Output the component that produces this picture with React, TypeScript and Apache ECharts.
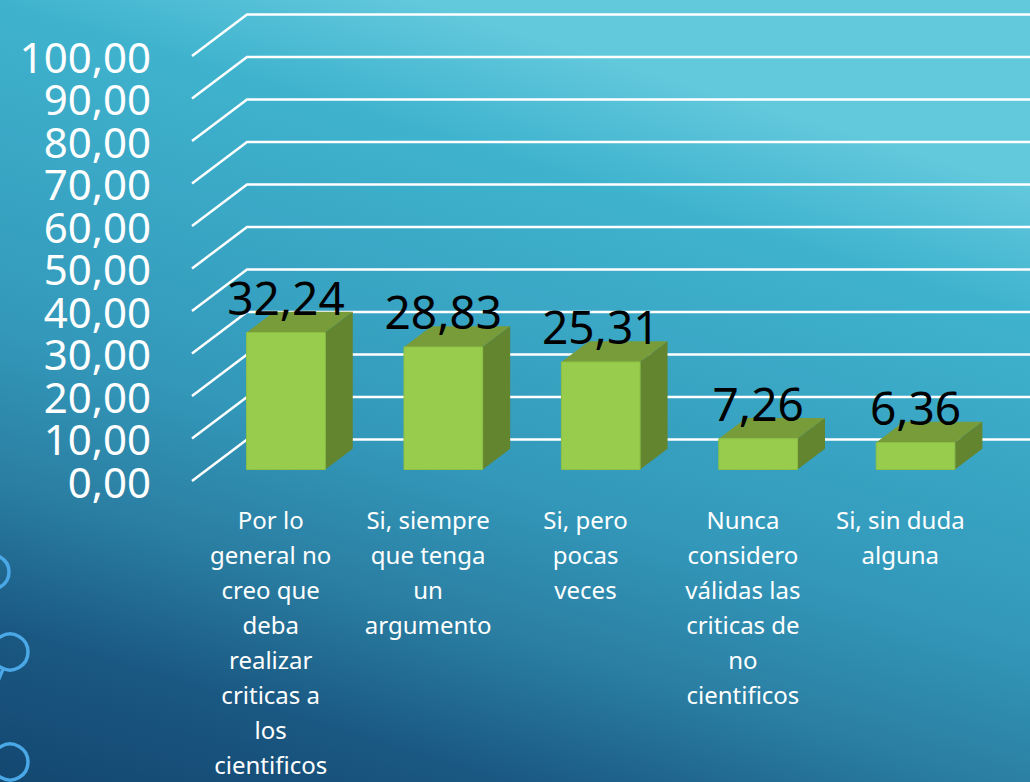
import React, { useEffect, useRef } from "react";
import * as echarts from "echarts";

const categories: string[] = [
  "Por lo\ngeneral no\ncreo que\ndeba\nrealizar\ncriticas a\nlos\ncientificos",
  "Si, siempre\nque tenga\nun\nargumento",
  "Si, pero\npocas\nveces",
  "Nunca\nconsidero\nválidas las\ncriticas de\nno\ncientificos",
  "Si, sin duda\nalguna",
];
const values: number[] = [32.24, 28.83, 25.31, 7.26, 6.36];
const yTicks: number[] = [0, 10, 20, 30, 40, 50, 60, 70, 80, 90, 100];

const FONT = "'Noto Sans', 'DejaVu Sans', sans-serif";
const fmt = (v: number) => v.toFixed(2).replace(".", ",");

// perspective depth of the floor (front -> back wall)
const DX = 55;
const DY = -41.5;

export default function App() {
  const ref = useRef<HTMLDivElement>(null);
  useEffect(() => {
    if (!ref.current) return;
    const chart = echarts.init(ref.current, undefined, { renderer: "svg" });
    const option: any = {
      animation: false,
      backgroundColor: {
        type: "linear",
        x: 0,
        y: 1,
        x2: 0.4,
        y2: 0,
        colorStops: [
          { offset: 0, color: "#134770" },
          { offset: 0.17, color: "#1a5882" },
          { offset: 0.33, color: "#2a7ea2" },
          { offset: 0.5, color: "#3398ba" },
          { offset: 0.86, color: "#3fb3ce" },
          { offset: 1, color: "#62c8dc" },
        ],
      },
      graphic: [
        { type: "circle", shape: { cx: -8, cy: 572, r: 17 }, style: { fill: "none", stroke: "#4aa8e6", lineWidth: 3.5 } },
        { type: "circle", shape: { cx: 10, cy: 652, r: 18 }, style: { fill: "none", stroke: "#4aa8e6", lineWidth: 3.5 } },
        { type: "line", shape: { x1: 3, y1: 669, x2: -2, y2: 681 }, style: { stroke: "#4aa8e6", lineWidth: 3.5 } },
        { type: "circle", shape: { cx: 10, cy: 762, r: 18 }, style: { fill: "none", stroke: "#4aa8e6", lineWidth: 3.5 } },
      ],
      grid: { left: 192, right: 51, top: 56, bottom: 293.5, containLabel: false },
      xAxis: {
        type: "category",
        data: categories,
        axisLine: { show: false },
        axisTick: { show: false },
        splitLine: { show: false },
        axisLabel: {
          color: "#ffffff",
          fontSize: 24,
          lineHeight: 35,
          margin: 21,
          interval: 0,
          fontFamily: FONT,
          align: "center",
        },
      },
      yAxis: {
        type: "value",
        min: 0,
        max: 100,
        interval: 10,
        axisLine: { show: false },
        axisTick: { show: false },
        splitLine: { show: false },
        axisLabel: { show: false },
      },
      series: [
        {
          type: "custom",
          z: 1,
          silent: true,
          data: yTicks.map((t) => [0, t]),
          renderItem: (params: any, api: any) => {
            const v = api.value(1);
            const y = api.coord([0, v])[1];
            const x0 = params.coordSys.x;
            return {
              type: "group",
              children: [
                {
                  type: "polyline",
                  shape: { points: [[x0, y], [x0 + DX, y + DY], [1040, y + DY]] },
                  style: { stroke: "#ffffff", lineWidth: 2.5, fill: "none" },
                },
                {
                  type: "text",
                  style: {
                    text: fmt(v),
                    x: x0 - 41,
                    y: y,
                    align: "right",
                    verticalAlign: "middle",
                    fill: "#ffffff",
                    fontSize: 42,
                    lineHeight: 40,
                    fontFamily: FONT,
                  },
                },
              ],
            };
          },
        },
        {
          type: "custom",
          z: 2,
          data: values.map((v, i) => [i, v]),
          renderItem: (params: any, api: any) => {
            const idx = api.value(0);
            const val = api.value(1);
            const p0 = api.coord([idx, 0]);
            const p1 = api.coord([idx, val]);
            const bw = api.size([1, 0])[0] * 0.5;
            const fx = 0.277 * DX, fy = 0.277 * DY;
            const bx = 0.5 * DX, by = 0.5 * DY;
            const xl = p0[0] + fx - bw / 2;
            const xr = xl + bw;
            const yb = p0[1] + fy;
            const yt = p1[1] + fy;
            return {
              type: "group",
              children: [
                {
                  type: "polygon",
                  shape: { points: [[xl, yt], [xr, yt], [xr + bx, yt + by], [xl + bx, yt + by]] },
                  style: { fill: "#789c3a" },
                },
                {
                  type: "polygon",
                  shape: { points: [[xr, yt], [xr, yb], [xr + bx, yb + by], [xr + bx, yt + by]] },
                  style: { fill: "#638530" },
                },
                {
                  type: "rect",
                  shape: { x: xl, y: yt, width: bw, height: yb - yt },
                  style: { fill: "#98cc4c", stroke: "#8cbf44", lineWidth: 1 },
                },
                {
                  type: "text",
                  style: {
                    text: fmt(val),
                    x: (xl + xr) / 2,
                    y: yt + by - 15,
                    align: "center",
                    verticalAlign: "middle",
                    fill: "#000000",
                    fontSize: 46,
                    fontFamily: FONT,
                  },
                },
              ],
            };
          },
        },
      ],
    };
    chart.setOption(option);
    return () => chart.dispose();
  }, []);
  return (
    <div
      ref={ref}
      style={{ position: "fixed", left: 0, top: 0, width: 1030, height: 782 }}
    />
  );
}
